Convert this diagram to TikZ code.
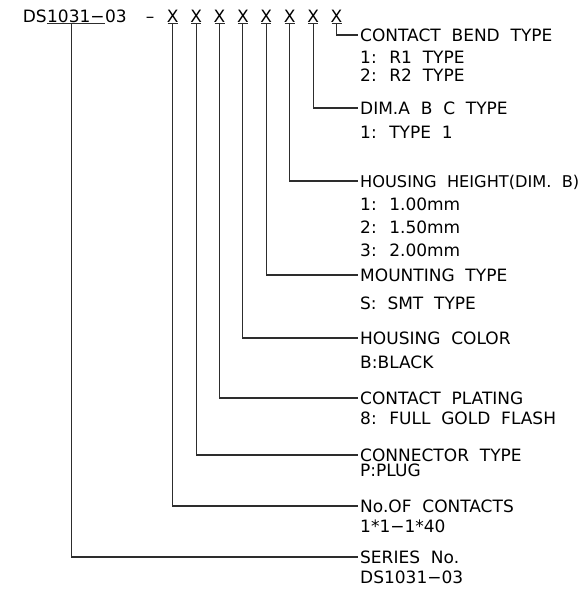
\documentclass[tikz,border=0pt]{standalone}
\usepackage{fontspec}
\setmainfont[WordSpace=2]{DejaVu Sans}
\usetikzlibrary{positioning}

\begin{document}
\begin{tikzpicture}[x=1pt,y=-1pt,font=\fontsize{17}{20}\selectfont,
  lead/.style={line width=1.1pt,cLead},
  title/.style={anchor=west,inner sep=2pt,text height=12.4pt,text depth=0pt},
  detail/.style={anchor=north west,inner sep=2pt,align=left},
  xmark/.style={anchor=base,inner sep=0pt}]
  \definecolor{cLead}{RGB}{45,45,45}
  \useasboundingbox (0,0) rectangle (584,590);

  % part number
  \node[anchor=base west,inner sep=0pt] (ds) at (22.7,22) {DS};
  \node[anchor=base west,inner sep=0pt] (dsnum) at (ds.base east) {1031−};
  \node[anchor=base west,inner sep=0pt] (dstail) at (dsnum.base east) {03};
  \node[xmark] (dash) at (150,22) {–};
  \draw[lead] ([yshift=-1.5pt]dsnum.base west) -- ([yshift=-1.5pt]dsnum.base east);

  % option letters
  \foreach \i in {1,...,8}{
    \node[xmark] (x\i) at ({172.7+23.4*(\i-1)},22) {X};
    \draw[lead] ([xshift=-5pt,yshift=-1.5pt]x\i.base) -- ([xshift=5pt,yshift=-1.5pt]x\i.base);
  }

  % --- code descriptions ---
  \node[title] (t8) at (358,35) {CONTACT BEND TYPE};
  \node[detail] (d8) at ([yshift=-5.3pt]t8.south west) {1: R1 TYPE\\[-1.5pt]2: R2 TYPE};

  \node[title] (t7) at (358,108) {DIM.A B C TYPE};
  \node[detail] (d7) at ([yshift=-7.3pt]t7.south west) {1: TYPE 1};

  \node[title,font=\fontsize{16.2}{20}\selectfont] (t6) at (358,181) {HOUSING HEIGHT(DIM. B)};
  \node[detail] (d6) at ([yshift=-6.6pt]t6.south west)
    {1: 1.00mm\\[3pt]2: 1.50mm\\[3pt]3: 2.00mm};

  \node[title] (t5) at (358,275) {MOUNTING TYPE};
  \node[detail] (d5) at ([yshift=-11.6pt]t5.south west) {S: SMT TYPE};

  \node[title] (t4) at (358,338) {HOUSING COLOR};
  \node[detail] (d4) at ([yshift=-7.4pt]t4.south west) {B:BLACK};

  \node[title] (t3) at (358,398) {CONTACT PLATING};
  \node[detail] (d3) at ([yshift=-3.6pt]t3.south west) {8: FULL GOLD FLASH};

  \node[title] (t2) at (358,455) {CONNECTOR TYPE};
  \node[detail] (d2) at ([yshift=1.4pt]t2.south west) {P:PLUG};

  \node[title] (t1) at (358,506) {No.OF CONTACTS};
  \node[detail] (d1) at ([yshift=-3.6pt]t1.south west) {1*1−1*40};

  \node[title] (t0) at (358,557) {SERIES No.};
  \node[detail] (d0) at ([yshift=-3.6pt]t0.south west) {DS1031−03};

  % leaders
  \foreach \i in {1,...,8}
    \draw[lead] ([yshift=-1.5pt]x\i.base) |- (t\i.west);
  \draw[lead] ([xshift=-4pt,yshift=-1.5pt]dsnum.base) |- (t0.west);
\end{tikzpicture}
\end{document}
